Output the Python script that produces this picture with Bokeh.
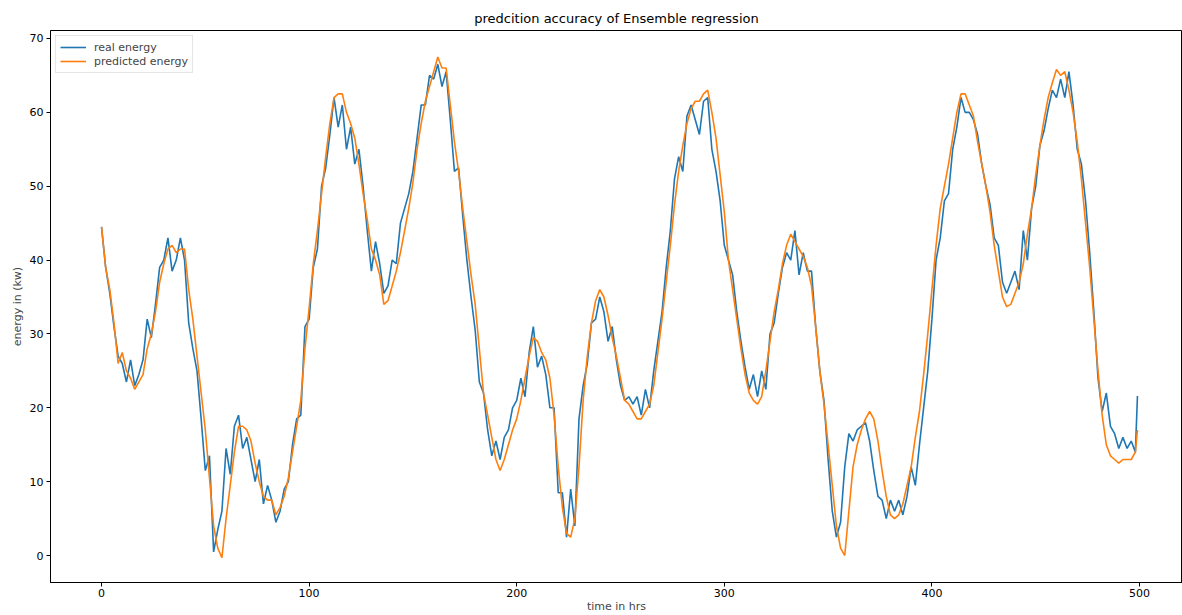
from bokeh.plotting import figure
from bokeh.models import Range1d
from bokeh.embed import file_html
from bokeh.resources import INLINE

# time index (hours), sampled every 2 h plus the last hour
time_hrs = list(range(0, 500, 2)) + [499]

real_energy = [
    44.5, 39, 35.5, 31, 27, 26, 23.5, 26.5, 23, 24.5,
    26.5, 32, 29.5, 34, 39, 40, 43, 38.5, 40, 43,
    40, 31.5, 28, 25, 18.5, 11.5, 13.5, 0.5, 3.5, 6,
    14.5, 11, 17.5, 19, 14.5, 16, 13, 10, 13, 7,
    9.5, 7.5, 4.5, 6, 9, 10, 15, 18.5, 19, 31,
    32, 39, 41.5, 50, 52.5, 57, 62, 58, 61, 55,
    58, 53, 55, 50, 44, 38.5, 42.5, 39.5, 35.5, 36.5,
    40, 39.5, 45, 47, 49, 52, 56.5, 61, 61, 65,
    64.5, 66.5, 63.5, 65.5, 59, 52, 52.5, 46, 40, 35,
    30.5, 23.5, 22, 17, 13.5, 15.5, 13, 16, 17, 20,
    21, 24, 21.5, 27.5, 31, 25.5, 27, 24.5, 20, 20,
    8.5, 8.5, 2.5, 9, 4, 18.5, 23, 26, 31.5, 32,
    35, 33, 29, 31, 26.5, 23, 21, 21.5, 20.5, 21.5,
    19, 22.5, 20, 25, 29, 33, 39, 44, 51, 54,
    52, 59.5, 61, 59, 57, 61.5, 62, 55, 52, 48,
    42, 40, 38, 33, 29, 25.5, 22.5, 24.5, 21.5, 25,
    22.5, 30, 31.5, 35.5, 39, 41, 40, 44, 38, 41,
    38.5, 38.5, 31, 25, 21, 13, 6, 2.5, 4.5, 12,
    16.5, 15.5, 17, 17.5, 18, 15.5, 11.5, 8, 7.5, 5,
    7.5, 6, 7.5, 5.5, 8, 12, 9.5, 15, 20, 25,
    32, 40, 43, 48, 49, 55, 58, 62, 60, 60,
    59, 57, 53, 50, 47.5, 43, 42, 37, 35.5, 37,
    38.5, 36, 44, 40, 47, 50, 55.5, 57.5, 60.5, 63,
    62, 64.5, 62, 65.5, 61, 55, 53, 48, 41, 33,
    24, 19.5, 22, 17.5, 16.5, 14.5, 16, 14.5, 15.5, 14,
    21.6,
]

predicted_energy = [
    44.5, 39, 36, 31.5, 26, 27.5, 25, 24, 22.5, 23.5,
    24.5, 28, 30, 33, 37, 39.5, 41.5, 42, 41, 41.5,
    41.5, 36, 32, 27, 22, 17, 10.5, 4, 1, -0.3,
    5, 9.5, 14, 17.5, 17.5, 17, 15.5, 12.5, 10, 8,
    7.5, 7.5, 5.5, 6.5, 8, 10.5, 14, 17.5, 21, 28,
    33.5, 39.5, 44, 49, 54, 58.5, 62, 62.5, 62.5, 60,
    58.5, 56.5, 53, 49, 45.5, 41.5, 40, 38, 34, 34.5,
    36.5, 38.5, 41, 44, 47, 50.5, 55, 58.5, 61.5, 63.5,
    65.5, 67.5, 66, 66, 61, 56, 52, 47, 42.5, 38,
    34, 28, 22, 19, 16, 13, 11.5, 13, 15, 17,
    18.5, 21, 24, 27, 29.5, 29, 27.5, 26.5, 24, 19,
    12, 6.5, 3, 2.5, 5, 12, 21, 27, 31.5, 34.5,
    36, 35, 32.5, 29.5, 27, 24, 21, 20.5, 19.5, 18.5,
    18.5, 19.5, 20.5, 23, 27.5, 32, 37, 42, 47.5, 52,
    55.5, 58.5, 60.5, 61.5, 61.5, 62.5, 63, 60, 56.5, 51.5,
    46.5, 40, 36, 32, 28, 24.5, 22, 21, 20.5, 21.5,
    25, 29, 33, 36, 39.5, 42, 43.5, 42.5, 41.5, 40.5,
    39, 36.5, 31, 25, 20.5, 15, 9.5, 4, 1, 0,
    6, 12, 15, 17, 18.5, 19.5, 18.5, 15.5, 11.5, 8,
    5.5, 5, 5.5, 7, 9.5, 12, 16, 19.5, 24.5, 30,
    36, 42, 47, 50, 53, 56.5, 60, 62.5, 62.5, 61,
    59.5, 56, 53, 50, 46.5, 42, 38.5, 35, 33.7, 34,
    35.5, 37, 39.5, 43.5, 47, 51.5, 55.5, 59, 62, 64,
    65.8, 65, 65.5, 63, 60, 56, 51, 45, 39, 32,
    25, 19, 15, 13.5, 13, 12.5, 13, 13, 13, 14,
    17,
]

x_ticks = [0, 100, 200, 300, 400, 500]
y_ticks = [0, 10, 20, 30, 40, 50, 60, 70]

FONT = "DejaVu Sans"

p = figure(
    width=1182, height=615,
    output_backend="svg", toolbar_location=None,
    x_range=Range1d(-24.57, 520.7), y_range=Range1d(-3.65, 71.08),
    min_border_left=50, min_border_right=0, min_border_top=30, min_border_bottom=32,
    background_fill_color="white", border_fill_color="white",
)

p.title.text = "predcition accuracy of Ensemble regression"
p.title.align = "center"
p.title.text_font = FONT
p.title.text_font_size = "13px"
p.title.text_font_style = "normal"
p.title.text_color = "black"

p.line(time_hrs, real_energy, line_color="#1f77b4", line_width=1.6, legend_label="real energy")
p.line(time_hrs, predicted_energy, line_color="#ff7f0e", line_width=1.6, legend_label="predicted energy")

p.xgrid.visible = False
p.ygrid.visible = False
p.outline_line_color = "black"
p.outline_line_width = 1

for ax in (p.xaxis[0], p.yaxis[0]):
    ax.major_tick_in = 0
    ax.major_tick_out = 4
    ax.minor_tick_in = 0
    ax.minor_tick_out = 0
    ax.major_label_text_font = FONT
    ax.major_label_text_font_size = "11px"
    ax.major_label_text_color = "black"
    ax.axis_label_text_font = FONT
    ax.axis_label_text_font_size = "11px"
    ax.axis_label_text_font_style = "normal"
    ax.axis_line_color = "black"
    ax.major_tick_line_color = "black"

p.yaxis.major_label_standoff = 3
p.yaxis.axis_label_standoff = 3
p.xaxis.major_label_standoff = 2
p.xaxis.axis_label_standoff = 0

p.xaxis.ticker = x_ticks
p.yaxis.ticker = y_ticks
p.xaxis.axis_label = "time in hrs"
p.yaxis.axis_label = "energy in (kw)"

leg = p.legend[0]
leg.location = "top_left"
leg.label_text_font = FONT
leg.label_text_font_size = "11px"
leg.border_line_color = "#cccccc"
leg.border_line_width = 1
leg.background_fill_alpha = 0.8
leg.margin = 5
leg.padding = 4
leg.spacing = 0
leg.glyph_width = 26
leg.glyph_height = 14
leg.label_height = 14
leg.label_standoff = 8

open("out.html", "w").write(file_html(p, INLINE))
